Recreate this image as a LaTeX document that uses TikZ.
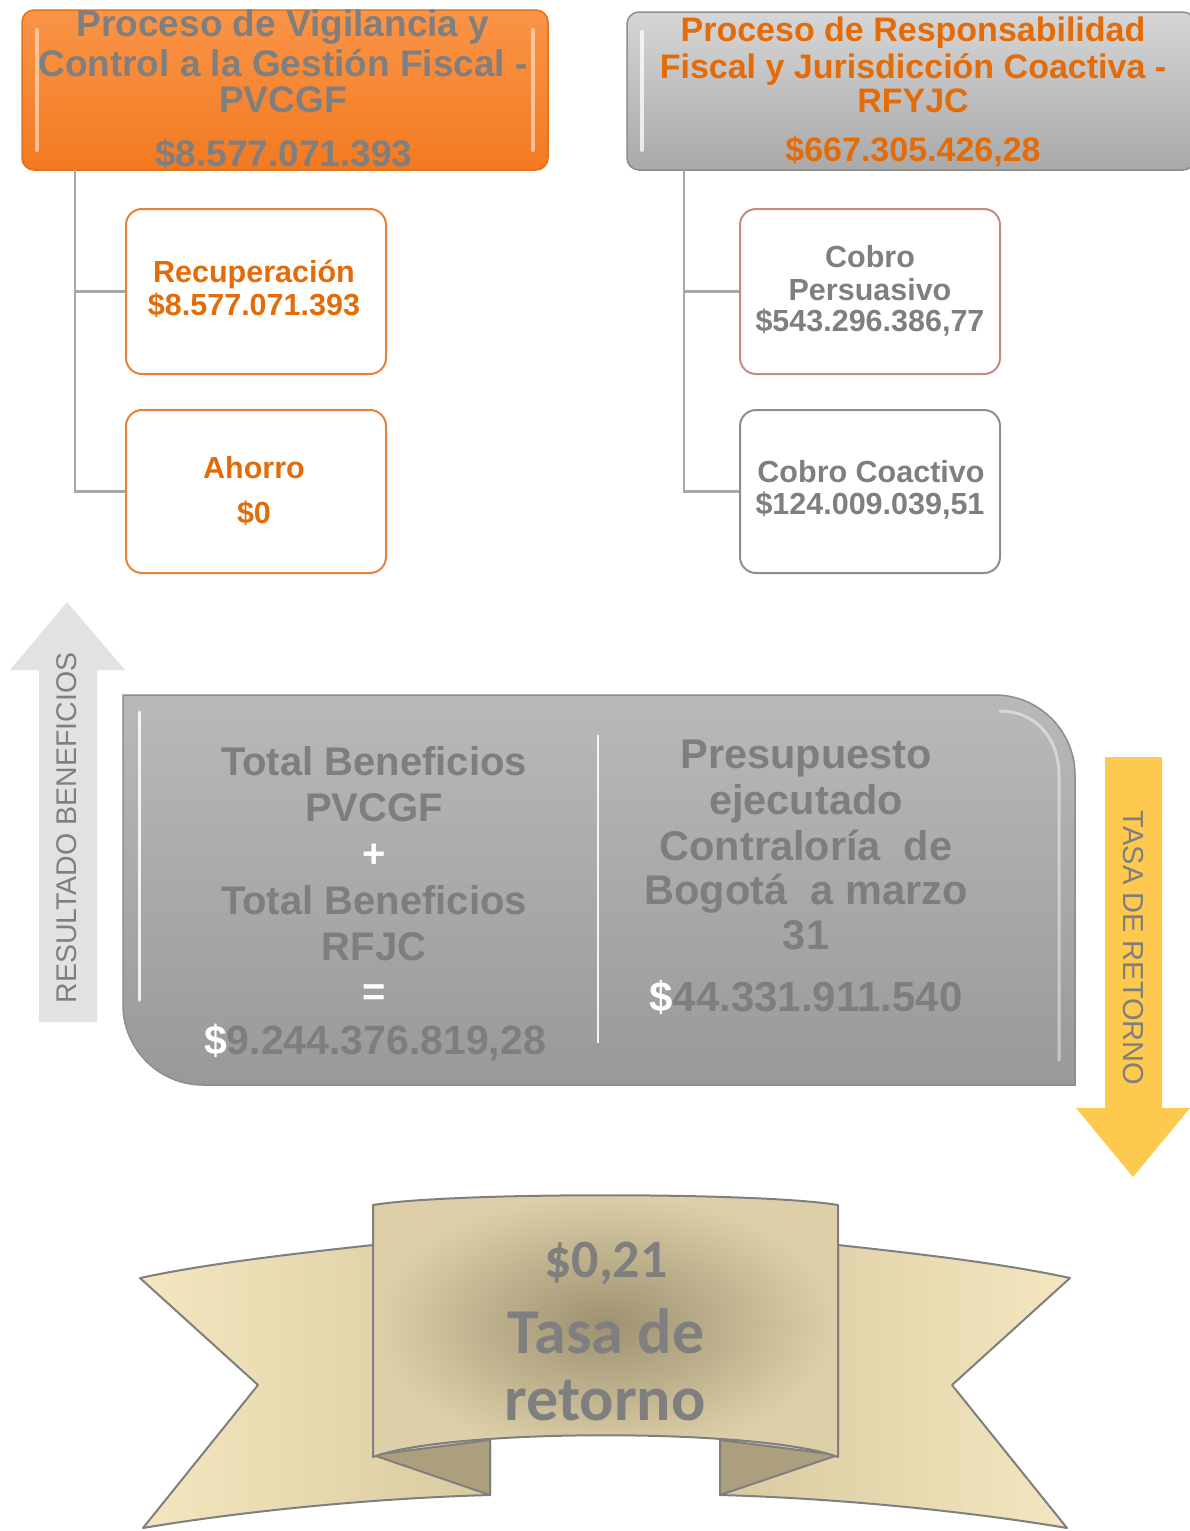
\documentclass[tikz,border=0pt]{standalone}
\usepackage{fontspec}
\setmainfont{Liberation Sans}
\newfontfamily\ribfont{Carlito}
\newcommand\myfs[2]{\fontsize{#1}{#2}\selectfont}
\definecolor{txtgray}{HTML}{7F7F7F}
\definecolor{midtxt}{HTML}{7E7E7E}
\definecolor{orangetxt}{HTML}{E36C09}
\definecolor{orangetop}{HTML}{FA9447}
\definecolor{orangebot}{HTML}{F27A22}
\definecolor{orangeedge}{HTML}{E0701A}
\definecolor{graytop}{HTML}{D6D6D6}
\definecolor{graybot}{HTML}{A9A9A9}
\definecolor{grayedge}{HTML}{8C8C8C}
\definecolor{childor}{HTML}{E8823A}
\definecolor{childrose}{HTML}{C38B82}
\definecolor{childgray}{HTML}{8E8E8E}
\definecolor{connc}{HTML}{A8A8A8}
\definecolor{midtop}{HTML}{B9B9B9}
\definecolor{midbot}{HTML}{999999}
\definecolor{uparrow}{HTML}{E2E2E2}
\definecolor{downarrow}{HTML}{FDC94E}
\definecolor{wingout}{HTML}{F4E6BE}
\definecolor{wingin}{HTML}{D8CAA0}
\definecolor{panelin}{HTML}{9D9171}
\definecolor{panelout}{HTML}{DDD0A9}
\definecolor{foldc}{HTML}{AB9F7D}
\definecolor{ribline}{HTML}{7F7F7F}
\tikzset{
  topbox/.style={rounded corners=12, inner sep=0, line width=1.5},
  childbox/.style={rounded corners=16, inner sep=0, line width=2, fill=white, minimum width=260},
  conn/.style={draw=connc, line width=2.5},
  lbl/.style={anchor=base, inner sep=0},
  toptxt/.style={lbl, font=\myfs{37}{40}\bfseries, text=txtgray},
  toptxtb/.style={lbl, font=\myfs{34}{38}\bfseries, text=orangetxt},
  childtxt/.style={lbl, font=\myfs{30.5}{33}\bfseries},
  midtext/.style={lbl, font=\myfs{40}{44}\bfseries, text=midtxt},
  ribtxt/.style={lbl, font=\ribfont\bfseries, text=txtgray},
  ribedge/.style={draw=ribline, line width=2, line join=round},
  bevel/.style={white, line width=4, line cap=round},
}
\begin{document}
\begin{tikzpicture}[x=1pt,y=-1pt]
\useasboundingbox (0,0) rectangle (1190,1531);
\clip (0,0) rectangle (1190,1531);

% ---------- top boxes ----------
\node[topbox, draw=orangeedge, top color=orangetop, bottom color=orangebot,
      minimum width=526, minimum height=160] (pv) at (285,90) {};
\draw[bevel, opacity=.5] (37,30) -- (37,150);
\draw[bevel, opacity=.5] (533,30) -- (533,150);
\node[topbox, draw=grayedge, top color=graytop, bottom color=graybot,
      minimum width=568, minimum height=158] (rf) at (911,91) {};
\draw[bevel, opacity=.75] (642,32) -- (642,150);

\node[toptxt] (pv1) at (283,36) {Proceso de Vigilancia y};
\node[toptxt] (pv2) at (283,76) {Control a la Gestión Fiscal -};
\node[toptxt] (pv3) at (283,112) {PVCGF};
\node[toptxt] (pv4) at (284,166) {\$8.577.071.393};

\node[toptxtb] (rf1) at (913,41) {Proceso de Responsabilidad};
\node[toptxtb] (rf2) at (913,78) {Fiscal y Jurisdicción Coactiva -};
\node[toptxtb] (rf3) at (913,112) {RFYJC};
\node[toptxtb] (rf4) at (913,161) {\$667.305.426,28};

% ---------- child boxes ----------
\node[childbox, draw=childor, minimum height=165] (rec) at (256,291.5) {};
\node[childbox, draw=childor, minimum height=163] (aho) at (256,491.5) {};
\node[childbox, draw=childrose, minimum height=165] (cp) at (870,291.5) {};
\node[childbox, draw=childgray, minimum height=163] (cc) at (870,491.5) {};

\coordinate (lt) at (75,170);
\coordinate (rt) at (684,170);
\draw[conn] (lt) |- (rec.west);
\draw[conn] (lt) |- (aho.west);
\draw[conn] (rt) |- (cp.west);
\draw[conn] (rt) |- (cc.west);

\node[childtxt, text=orangetxt] (rec1) at (254,282) {Recuperación};
\node[childtxt, text=orangetxt] (rec2) at (254,315) {\$8.577.071.393};
\node[childtxt, text=orangetxt] (aho1) at (254,478) {Ahorro};
\node[childtxt, text=orangetxt] (aho2) at (254,523) {\$0};

\node[childtxt, text=txtgray] (cp1) at (870,267) {Cobro};
\node[childtxt, text=txtgray] (cp2) at (870,300) {Persuasivo};
\node[childtxt, text=txtgray] (cp3) at (870,331) {\$543.296.386,77};
\node[childtxt, text=txtgray] (cc1) at (871,482) {Cobro Coactivo};
\node[childtxt, text=txtgray] (cc2) at (870,514) {\$124.009.039,51};

% ---------- side arrows ----------
\fill[uparrow] (39,1022) -- (39,670) -- (10,670) -- (67,602) -- (125,670) -- (97,670) -- (97,1022) -- cycle;
\node[lbl, anchor=center, rotate=90, font=\myfs{28.5}{30}, text=txtgray] (resb) at (67,828) {RESULTADO BENEFICIOS};

\fill[downarrow] (1105,757) -- (1162,757) -- (1162,1108) -- (1190,1108) -- (1133,1177) -- (1076,1108) -- (1105,1108) -- cycle;
\node[lbl, anchor=center, rotate=-90, font=\myfs{29}{30}, text=txtgray] (tasa) at (1133,948) {TASA DE RETORNO};

% ---------- middle box ----------
\path[draw=grayedge, line width=1.5, top color=midtop, bottom color=midbot]
  (123,695) -- (995,695) .. controls (1039,695) and (1075,731) .. (1075,775)
  -- (1075,1085) -- (203,1085) .. controls (159,1085) and (123,1049) .. (123,1005) -- cycle;
\draw[bevel, opacity=.85, line width=3] (139,712) -- (139,1000);
\draw[bevel, opacity=.45, line width=3] (1000,711) .. controls (1035,711) and (1059,738) .. (1059,775) -- (1059,1060);
\draw[color=white!92!gray, line width=2.5] (598,735) -- (598,1043);

\node[midtext] (tb1) at (374,775) {Total Beneficios};
\node[midtext] (tb2) at (374,821) {PVCGF};
\node[midtext, text=white] (tb3) at (374,867) {+};
\node[midtext] (tb4) at (374,914) {Total Beneficios};
\node[midtext] (tb5) at (374,960) {RFJC};
\node[midtext, text=white] (tb6) at (374,1005) {=};
\node[midtext, font=\myfs{41}{44}\bfseries] (tb7) at (375,1054) {{\color{white}\$}9.244.376.819,28};

\node[midtext, font=\myfs{41.5}{44}\bfseries] (pe1) at (806,768) {Presupuesto};
\node[midtext, font=\myfs{41.5}{44}\bfseries] (pe2) at (806,814) {ejecutado};
\node[midtext, font=\myfs{41.5}{44}\bfseries] (pe3) at (806,860) {Contraloría\ \ de};
\node[midtext, font=\myfs{41.5}{44}\bfseries] (pe4) at (806,904) {Bogotá\ \ a marzo};
\node[midtext, font=\myfs{41.5}{44}\bfseries] (pe5) at (806,949) {31};
\node[midtext, font=\myfs{42}{44}\bfseries] (pe6) at (806,1011) {{\color{white}\$}44.331.911.540};

% ---------- ribbon ----------
% left wing
\path[ribedge, left color=wingout, right color=wingin]
  (373,1245) .. controls (290,1254) and (205,1264) .. (140,1278)
  -- (258,1385) -- (143,1528)
  .. controls (250,1510) and (380,1498) .. (490,1495)
  -- (490,1440) -- (373,1440) -- cycle;
% right wing
\path[ribedge, left color=wingin, right color=wingout]
  (838,1245) .. controls (921,1254) and (1006,1264) .. (1070,1278)
  -- (952,1385) -- (1067,1528)
  .. controls (960,1510) and (830,1498) .. (720,1495)
  -- (720,1440) -- (838,1440) -- cycle;
% folds
\path[ribedge, fill=foldc] (373,1455) -- (490,1495) -- (490,1440) -- cycle;
\path[ribedge, fill=foldc] (838,1455) -- (720,1495) -- (720,1440) -- cycle;
% center panel
\path[ribedge, inner color=panelin, outer color=panelout]
  (373,1205) .. controls (450,1192) and (760,1192) .. (838,1205)
  -- (838,1457) .. controls (760,1428) and (450,1428) .. (373,1457) -- cycle;

\node[ribtxt, font=\ribfont\bfseries\myfs{54}{60}] (rb1) at (606,1277) {\$0,21};
\node[ribtxt, font=\ribfont\bfseries\myfs{64}{70}] (rb2) at (606,1353) {Tasa de};
\node[ribtxt, font=\ribfont\bfseries\myfs{64}{70}] (rb3) at (605,1420) {retorno};
\end{tikzpicture}
\end{document}
